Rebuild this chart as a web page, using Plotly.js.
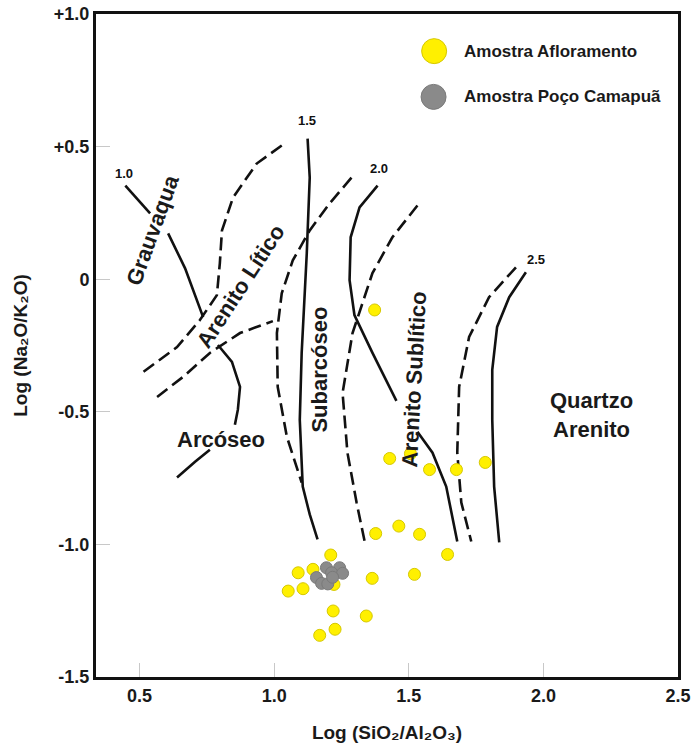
<!DOCTYPE html>
<html>
<head>
<meta charset="utf-8">
<script src="https://cdn.plot.ly/plotly-3.0.1.min.js"></script>
<style>html,body{margin:0;padding:0;background:#fff;}#chart{width:691px;height:749px;}</style>
</head>
<body>
<div id="chart"></div>
<script>
// ---- tick labels ----
const xTickVals = [0.5, 1.0, 1.5, 2.0, 2.5];
const xTickText = ['0.5', '1.0', '1.5', '2.0', '2.5'];
const yTickVals = [1.0, 0.5, 0, -0.5, -1.0, -1.5];
const yTickText = ['+1.0', '+0.5', '0', '-0.5', '-1.0', '-1.5'];

// ---- series names ----
const seriesNames = ['Amostra Afloramento', 'Amostra Poço Camapuã'];

// ---- Amostra Afloramento (yellow) ----
const aflorX = [1.373, 1.429, 1.506, 1.577, 1.677, 1.784, 1.377, 1.463, 1.540, 1.644,
                1.210, 1.364, 1.521, 1.342, 1.219, 1.226, 1.169, 1.089, 1.144, 1.052,
                1.107, 1.222];
const aflorY = [-0.116, -0.676, -0.658, -0.718, -0.718, -0.691, -0.959, -0.931, -0.962, -1.038,
                -1.040, -1.128, -1.113, -1.270, -1.251, -1.320, -1.343, -1.107, -1.094, -1.176,
                -1.167, -1.151];

// ---- Amostra Poço Camapuã (grey) ----
const pocoX = [1.194, 1.243, 1.213, 1.254, 1.157, 1.176, 1.199, 1.217];
const pocoY = [-1.088, -1.088, -1.107, -1.109, -1.125, -1.147, -1.149, -1.124];

// ---- classification boundaries (solid) ----
const line10X = [0.447, 0.539, null, 0.606, 0.669, 0.736, null, 0.791, 0.843, 0.873, 0.865, 0.854, null, 0.761, 0.706, 0.639];
const line10Y = [0.353, 0.248, null, 0.173, 0.041, -0.143, null, -0.248, -0.312, -0.406, -0.492, -0.549, null, -0.643, -0.688, -0.748];
const line15X = [1.124, 1.132, 1.121, 1.102, 1.095, 1.106, 1.132, 1.161];
const line15Y = [0.530, 0.383, 0.098, -0.278, -0.530, -0.782, -0.887, -0.981];
const line20X = [1.384, 1.317, 1.284, 1.280, 1.298, 1.365, 1.454, null, 1.532, 1.588, 1.639, 1.680];
const line20Y = [0.353, 0.271, 0.158, -0.004, -0.135, -0.278, -0.459, null, -0.575, -0.654, -0.782, -0.989];
const line25X = [1.935, 1.873, 1.828, 1.810, 1.810, 1.817, 1.836];
const line25Y = [0.026, -0.068, -0.180, -0.342, -0.530, -0.782, -0.992];

// ---- classification boundaries (dashed) ----
const dashAX = [1.028, 0.935, 0.847, 0.806, 0.798, 0.787, 0.724, 0.639, 0.513];
const dashAY = [0.504, 0.436, 0.308, 0.184, 0.060, -0.060, -0.154, -0.256, -0.350];
const dashBX = [0.565, 0.662, 0.761, 0.873, 0.995];
const dashBY = [-0.444, -0.368, -0.278, -0.203, -0.158];
const dashCX = [1.287, 1.206, 1.132, 1.069, 1.028, 1.010, 1.013, 1.047, 1.102];
const dashCY = [0.383, 0.286, 0.184, 0.071, -0.053, -0.203, -0.406, -0.594, -0.767];
const dashDX = [1.532, 1.439, 1.365, 1.291, 1.254, 1.272, 1.306, 1.336];
const dashDY = [0.278, 0.158, 0.023, -0.203, -0.429, -0.654, -0.842, -0.989];
const dashEX = [1.898, 1.798, 1.724, 1.687, 1.680, 1.695, 1.732];
const dashEY = [0.045, -0.068, -0.218, -0.406, -0.654, -0.842, -0.989];

// ---- curve value labels ----
const curveLabelText = ['1.0', '1.5', '2.0', '2.5'];
const curveLabelX = [0.441, 1.121, 1.391, 1.971];
const curveLabelY = [0.399, 0.600, 0.418, 0.073];

// ---- field names ----
const fieldText = ['Grauvaqua', 'Arenito Lítico', 'Arcóseo', 'Subarcóseo', 'Arenito Sublítico', 'Quartzo<br>Arenito'];
const fieldX = [0.550, 0.875, 0.801, 1.169, 1.521, 2.177];
const fieldY = [0.186, -0.028, -0.605, -0.342, -0.376, -0.511];

// ---- axis titles ----
const xTitle = 'Log (SiO\u2082/Al\u2082O\u2083)';
const yTitle = 'Log (Na\u2082O/K\u2082O)';

const FONT = 'Liberation Sans, Arial, Helvetica, sans-serif';
const fieldAngles = [-70, -57, 0, -90, -87, 0];

function lineTrace(x, y, dashed) {
  return {x: x, y: y, type: 'scatter', mode: 'lines', showlegend: false, hoverinfo: 'skip',
          line: {color: '#111', width: 2.6, dash: dashed ? '13px,6px' : 'solid'}};
}

const traces = [
  lineTrace(line10X, line10Y, false),
  lineTrace(line15X, line15Y, false),
  lineTrace(line20X, line20Y, false),
  lineTrace(line25X, line25Y, false),
  lineTrace(dashAX, dashAY, true),
  lineTrace(dashBX, dashBY, true),
  lineTrace(dashCX, dashCY, true),
  lineTrace(dashDX, dashDY, true),
  lineTrace(dashEX, dashEY, true),
  {x: aflorX, y: aflorY, name: seriesNames[0], type: 'scatter', mode: 'markers', showlegend: false,
   marker: {size: 12, color: '#fff000', line: {color: '#d6c800', width: 1}}},
  {x: pocoX, y: pocoY, name: seriesNames[1], type: 'scatter', mode: 'markers', showlegend: false,
   marker: {size: 12, color: '#8a8a8a', line: {color: '#7a7a7a', width: 1}}}
];

const annotations = [];
curveLabelText.forEach((t, i) => annotations.push({
  x: curveLabelX[i], y: curveLabelY[i], xref: 'x', yref: 'y', text: t, showarrow: false,
  font: {family: FONT, size: 13, color: '#111', weight: 'bold'}
}));
fieldText.forEach((t, i) => annotations.push({
  x: fieldX[i], y: fieldY[i], xref: 'x', yref: 'y', text: t, showarrow: false,
  textangle: fieldAngles[i], align: 'center',
  font: {family: FONT, size: 22, color: '#1a1a1a', weight: 'bold'}
}));
// legend texts
annotations.push({x: 0.629, y: 0.944, xref: 'paper', yref: 'paper', xanchor: 'left', yanchor: 'middle',
  text: seriesNames[0], showarrow: false, font: {family: FONT, size: 17, color: '#1a1a1a', weight: 'bold'}});
annotations.push({x: 0.629, y: 0.875, xref: 'paper', yref: 'paper', xanchor: 'left', yanchor: 'middle',
  text: seriesNames[1], showarrow: false, font: {family: FONT, size: 17, color: '#1a1a1a', weight: 'bold'}});

const shapes = [
  {type: 'circle', xref: 'paper', yref: 'paper', xsizemode: 'pixel', ysizemode: 'pixel',
   xanchor: 0.581, yanchor: 0.944, x0: -12.5, x1: 12.5, y0: -12.5, y1: 12.5,
   fillcolor: '#fff000', line: {color: '#d6c800', width: 1}},
  {type: 'circle', xref: 'paper', yref: 'paper', xsizemode: 'pixel', ysizemode: 'pixel',
   xanchor: 0.580, yanchor: 0.875, x0: -12.5, x1: 12.5, y0: -12.5, y1: 12.5,
   fillcolor: '#8a8a8a', line: {color: '#7a7a7a', width: 1}}
];

const layout = {
  width: 691, height: 749,
  margin: {l: 96, r: 13, t: 14, b: 72},
  paper_bgcolor: '#fff', plot_bgcolor: '#fff',
  showlegend: false,
  font: {family: FONT, color: '#1a1a1a'},
  xaxis: {
    range: [0.338, 2.5], tickmode: 'array', tickvals: xTickVals, ticktext: xTickText,
    ticks: 'inside', ticklen: 14, tickwidth: 1, tickcolor: '#c8c8c8',
    showline: true, linewidth: 3, linecolor: '#111', mirror: true,
    showgrid: false, zeroline: false,
    tickfont: {family: FONT, size: 18, color: '#1a1a1a', weight: 'bold'},
    title: {text: xTitle, standoff: 22,
            font: {family: FONT, size: 19, color: '#1a1a1a', weight: 'bold'}}
  },
  yaxis: {
    range: [-1.5, 1.0], tickmode: 'array', tickvals: yTickVals, ticktext: yTickText,
    ticks: 'inside', ticklen: 14, tickwidth: 1, tickcolor: '#c8c8c8',
    showline: true, linewidth: 3, linecolor: '#111', mirror: true,
    showgrid: false, zeroline: false,
    tickfont: {family: FONT, size: 18, color: '#1a1a1a', weight: 'bold'},
    title: {text: yTitle, standoff: 22,
            font: {family: FONT, size: 19, color: '#1a1a1a', weight: 'bold'}}
  },
  annotations: annotations,
  shapes: shapes
};

Plotly.newPlot('chart', traces, layout, {staticPlot: true, displayModeBar: false});
</script>
</body>
</html>
